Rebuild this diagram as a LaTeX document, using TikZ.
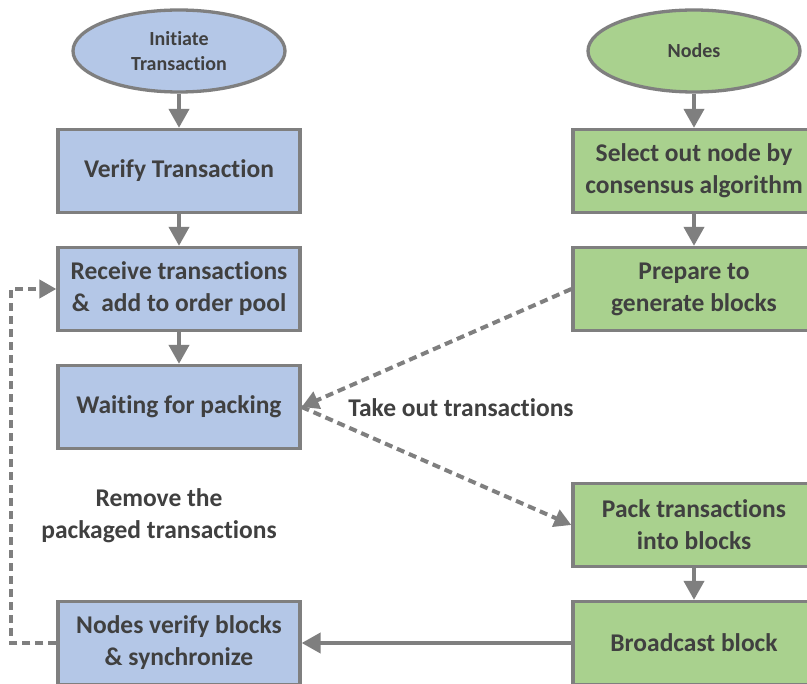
\documentclass[tikz,border=0pt]{standalone}
\usepackage{fontspec}
\setmainfont{Carlito}[Ligatures={TeX,NoCommon}]
\usetikzlibrary{shapes.geometric,arrows.meta}
\definecolor{boxblue}{HTML}{B4C7E7}
\definecolor{boxgreen}{HTML}{A9D18E}
\definecolor{edgegray}{HTML}{7F7F7F}
\definecolor{ink}{HTML}{404040}
\begin{document}
\begin{tikzpicture}[x=1pt,y=-1pt,
  every node/.style={font=\fontsize{25.5}{32}\selectfont\bfseries, text=ink},
  stepbox/.style={draw=edgegray, line width=3.3pt, minimum width=242pt, minimum height=83pt, align=center, inner sep=2pt},
  bluebox/.style={stepbox, fill=boxblue},
  greenbox/.style={stepbox, fill=boxgreen},
  startoval/.style={ellipse, draw=edgegray, line width=3.3pt, minimum width=212pt, minimum height=82pt, align=center, inner sep=0pt, font=\fontsize{20}{25}\selectfont\bfseries},
  flow/.style={draw=edgegray, line width=4pt, -{Triangle[width=20pt,length=19pt]}},
  dflow/.style={draw=edgegray, line width=4pt, dash pattern=on 8pt off 5pt, -{Triangle[width=18pt,length=17pt]}},
]
\fill[white] (0,0) rectangle (807,684);
\clip (0,0) rectangle (807,684);

% left column: transaction side
\node[startoval, fill=boxblue] (init) at (179,51) {Initiate\\Transaction};
\node[bluebox] (verify) at (179,171) {Verify Transaction};
\node[bluebox] (receive) at (179,289) {Receive transactions\\\&\ \ add to order pool};
\node[bluebox] (wait) at (179,407) {Waiting for packing};
\node[bluebox] (nverify) at (179,643) {Nodes verify blocks\\\& synchronize};

% right column: node side
\node[startoval, fill=boxgreen] (nodes) at (694,51) {Nodes};
\node[greenbox] (select) at (694,171) {Select out node by\\consensus algorithm};
\node[greenbox] (prep) at (694,289) {Prepare to\\generate blocks};
\node[greenbox] (pack) at (694,525) {Pack transactions\\into blocks};
\node[greenbox] (bcast) at (694,643) {Broadcast block};

% labels
\node (takeout) at (461,408) {Take out transactions};
\node[align=center] (remove) at (159,516) {Remove the\\packaged transactions};

% solid flow
\draw[flow] (init) -- (verify);
\draw[flow] (verify) -- (receive);
\draw[flow] (receive) -- (wait);
\draw[flow] (nodes) -- (select);
\draw[flow] (select) -- (prep);
\draw[flow] (pack) -- (bcast);
\draw[flow] (bcast) -- (nverify);

% dashed flow
\draw[dflow] (prep.west) -- (wait.east);
\draw[dflow] (wait.east) -- (pack.west);
\draw[dflow] (nverify.west) -- ++(-45,0) |- (receive.west);
\end{tikzpicture}
\end{document}
